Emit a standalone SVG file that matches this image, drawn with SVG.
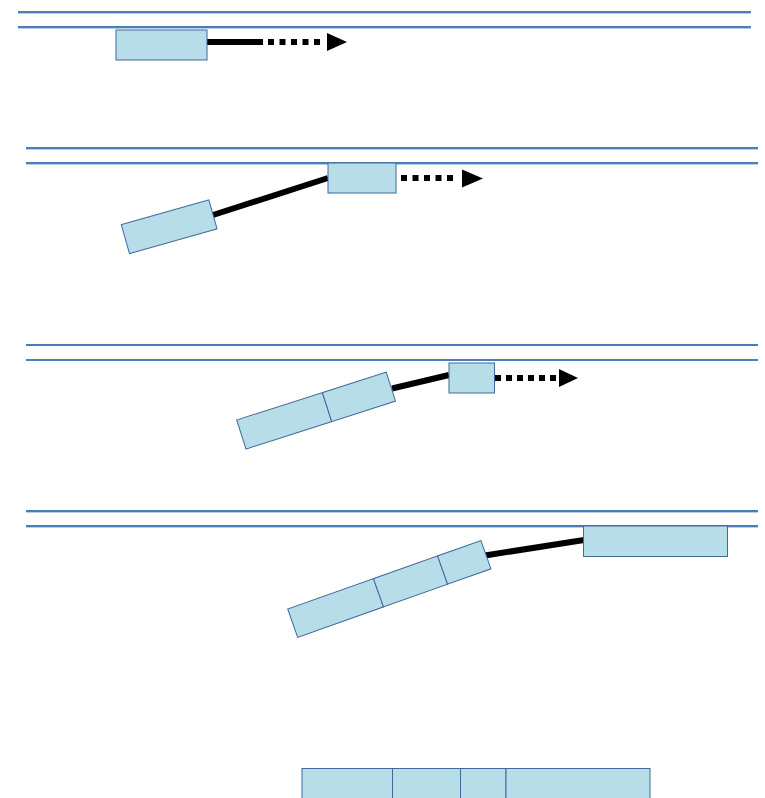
<svg xmlns="http://www.w3.org/2000/svg" width="765" height="798" viewBox="0 0 765 798">
  <style>
    .rail { stroke: #4A7EBB; stroke-width: 2; fill: none; }
    .rail-shadow { stroke: #B9CDE6; stroke-width: 1; fill: none; }
    .car { fill: #B7DDE8; stroke: #3E6A9C; stroke-width: 1; }
    .tow { stroke: #000; stroke-width: 6; fill: none; }
    .dots { stroke: #000; stroke-width: 6; fill: none; stroke-dasharray: 6 5.5; }
    .head { fill: #000; }
  </style>

  <!-- track rails -->
  <g id="rails">
    <line class="rail-shadow" x1="18" y1="13.5" x2="751" y2="13.5"/>
    <line class="rail" x1="18" y1="12" x2="751" y2="12"/>
    <line class="rail-shadow" x1="18" y1="28.5" x2="751" y2="28.5"/>
    <line class="rail" x1="18" y1="27" x2="751" y2="27"/>

    <line class="rail-shadow" x1="26" y1="149.5" x2="758" y2="149.5"/>
    <line class="rail" x1="26" y1="148" x2="758" y2="148"/>
    <line class="rail-shadow" x1="26" y1="164.5" x2="758" y2="164.5"/>
    <line class="rail" x1="26" y1="163" x2="758" y2="163"/>

    <line class="rail" x1="26" y1="345" x2="758" y2="345"/>
    <line class="rail" x1="26" y1="360" x2="758" y2="360"/>

    <line class="rail-shadow" x1="26" y1="512.5" x2="758" y2="512.5"/>
    <line class="rail" x1="26" y1="511" x2="758" y2="511"/>
    <line class="rail-shadow" x1="26" y1="527.5" x2="758" y2="527.5"/>
    <line class="rail" x1="26" y1="526" x2="758" y2="526"/>
  </g>

  <!-- tow lines and direction arrows -->
  <g id="connectors">
    <line class="tow" x1="207" y1="42" x2="263" y2="42"/>
    <line class="dots" x1="268" y1="42" x2="320" y2="42"/>
    <polygon class="head" points="327,33 347,42 327,51"/>

    <line class="tow" x1="213" y1="215" x2="328" y2="178"/>
    <line class="dots" x1="401" y1="178" x2="453" y2="178"/>
    <polygon class="head" points="462,169.5 483,178.5 462,187.5"/>

    <line class="tow" x1="392" y1="388.5" x2="449" y2="375"/>
    <line class="dots" x1="495" y1="378" x2="556" y2="378" style="stroke-dasharray: 6 5"/>
    <polygon class="head" points="559,369 578,378 559,387"/>

    <line class="tow" x1="485" y1="555.5" x2="584" y2="540"/>
  </g>

  <!-- stage 1 -->
  <g id="s1-car">
    <rect class="car" x="116" y="30" width="91" height="30"/>
  </g>

  <!-- stage 2 -->
  <g id="s2-car-a" transform="translate(121.3,224.7) rotate(-15.8)">
    <rect class="car" x="0" y="0" width="91" height="30"/>
  </g>
  <g id="s2-car-b">
    <rect class="car" x="328" y="163" width="68" height="30"/>
  </g>

  <!-- stage 3 -->
  <g id="s3-train" transform="translate(236.7,420) rotate(-17.75)">
    <rect class="car" x="0" y="0" width="90" height="30.5"/>
    <rect class="car" x="90" y="0" width="67" height="30.5"/>
  </g>
  <g id="s3-car-c">
    <rect class="car" x="449" y="363" width="45.5" height="30"/>
  </g>

  <!-- stage 4 -->
  <g id="s4-train" transform="translate(287.7,609) rotate(-19.5)">
    <rect class="car" x="0" y="0" width="91" height="30"/>
    <rect class="car" x="91" y="0" width="68" height="30"/>
    <rect class="car" x="159" y="0" width="46" height="30"/>
  </g>
  <g id="s4-car-d">
    <rect class="car" x="583.5" y="526" width="144" height="30.5"/>
  </g>

  <!-- final assembled train -->
  <g id="s5-train">
    <rect class="car" x="302" y="768.5" width="90.5" height="32"/>
    <rect class="car" x="392.5" y="768.5" width="68" height="32"/>
    <rect class="car" x="460.5" y="768.5" width="45.5" height="32"/>
    <rect class="car" x="506" y="768.5" width="144" height="32"/>
  </g>
</svg>
